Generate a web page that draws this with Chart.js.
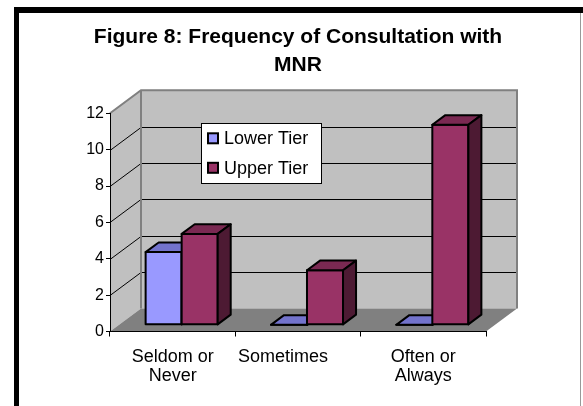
<!DOCTYPE html>
<html>
<head>
<meta charset="utf-8">
<title>Figure 8: Frequency of Consultation with MNR</title>
<script src="https://cdn.jsdelivr.net/npm/chart.js@4.4.1/dist/chart.umd.min.js"></script>
<style>
  html, body { margin: 0; padding: 0; background: #fff; }
</style>
</head>
<body>
<canvas id="freqChart" width="583" height="406"></canvas>
<script>
const categories = [["Seldom or", "Never"], "Sometimes", ["Often or", "Always"]];
const seriesNames = ["Lower Tier", "Upper Tier"];
const lowerTier = [4, 0, 0];
const upperTier = [5, 3, 11];
const yTicks = [0, 2, 4, 6, 8, 10, 12];

const FONT = "'Liberation Sans', Arial, sans-serif";

// fake 3d: offset of the back wall, and where the boxes sit in that depth
const DEPTH = { dx: 31, dy: 23 };
const BAR_FRONT = 0.29, BAR_BACK = 0.71;

const faces = [
  { front: "#9999ff", top: "#7373cc", side: "#4d4d80" },
  { front: "#993366", top: "#7a2952", side: "#4d1a33" }
];

function poly(ctx, pts, fill) {
  ctx.beginPath();
  ctx.moveTo(pts[0][0], pts[0][1]);
  pts.slice(1).forEach(p => ctx.lineTo(p[0], p[1]));
  ctx.closePath();
  ctx.fillStyle = fill;
  ctx.fill();
  ctx.stroke();
}

// frame, side wall, back wall, floor and the grid lines on them
const wallsPlugin = {
  id: 'walls',
  beforeDraw(chart) {
    const { ctx, chartArea: a, scales: { y } } = chart;
    const dx = DEPTH.dx, dy = DEPTH.dy;
    ctx.save();
    ctx.fillStyle = '#000';
    ctx.fillRect(14, 7, 5, chart.height - 7);
    ctx.fillRect(14, 7, chart.width - 14, 6);
    ctx.fillStyle = '#999';
    ctx.fillRect(580, 13, 1, chart.height - 13);

    ctx.fillStyle = '#c0c0c0';
    ctx.beginPath();
    ctx.moveTo(a.left, a.top);
    ctx.lineTo(a.left + dx, a.top - dy);
    ctx.lineTo(a.left + dx, a.bottom - dy);
    ctx.lineTo(a.left, a.bottom);
    ctx.closePath();
    ctx.fill();
    ctx.fillRect(a.left + dx, a.top - dy, a.right - a.left, a.bottom - a.top);

    ctx.fillStyle = '#808080';
    ctx.beginPath();
    ctx.moveTo(a.left, a.bottom);
    ctx.lineTo(a.left + dx, a.bottom - dy);
    ctx.lineTo(a.right + dx, a.bottom - dy);
    ctx.lineTo(a.right, a.bottom);
    ctx.closePath();
    ctx.fill();

    ctx.strokeStyle = '#000';
    ctx.lineWidth = 1;
    yTicks.forEach(v => {
      if (v === y.min || v === y.max) return;
      const py = Math.round(y.getPixelForValue(v)) + 0.5;
      ctx.beginPath();
      ctx.moveTo(a.left, py);
      ctx.lineTo(a.left + dx, py - dy);
      ctx.lineTo(a.right + dx, py - dy);
      ctx.stroke();
    });

    ctx.strokeStyle = '#808080';
    ctx.lineWidth = 2;
    ctx.beginPath();
    ctx.moveTo(a.left, a.top);
    ctx.lineTo(a.left + dx, a.top - dy);
    ctx.lineTo(a.right + dx, a.top - dy);
    ctx.lineTo(a.right + dx, a.bottom - dy);
    ctx.moveTo(a.left + dx, a.top - dy);
    ctx.lineTo(a.left + dx, a.bottom - dy);
    ctx.stroke();
    ctx.restore();
  }
};

// the bars are drawn as boxes from the bar elements chart.js lays out
const boxesPlugin = {
  id: 'boxes',
  beforeDatasetDraw() { return false; },
  afterDatasetsDraw(chart) {
    const { ctx } = chart;
    const fx = DEPTH.dx * BAR_FRONT, fy = DEPTH.dy * BAR_FRONT;
    const bx = DEPTH.dx * (BAR_BACK - BAR_FRONT), by = DEPTH.dy * (BAR_BACK - BAR_FRONT);
    const metas = chart.data.datasets.map((d, i) => chart.getDatasetMeta(i));
    ctx.save();
    ctx.lineWidth = 2;
    ctx.strokeStyle = '#000';
    ctx.lineJoin = 'round';
    categories.forEach((c, ci) => {
      metas.forEach((meta, di) => {
        const { x, y, base, width } = meta.data[ci].getProps(['x', 'y', 'base', 'width'], true);
        const l = x - width / 2 + fx, r = x + width / 2 + fx;
        const t = y - fy, b = base - fy;
        const col = faces[di];
        poly(ctx, [[l, t], [r, t], [r, b], [l, b]], col.front);
        poly(ctx, [[l, t], [l + bx, t - by], [r + bx, t - by], [r, t]], col.top);
        poly(ctx, [[r, t], [r + bx, t - by], [r + bx, b - by], [r, b]], col.side);
      });
    });
    ctx.restore();
  }
};

// legend box sitting on the back wall
const legendPlugin = {
  id: 'boxLegend',
  afterDraw(chart) {
    const { ctx, chartArea: a } = chart;
    const x0 = a.left + 91, y0 = a.top + 10, w = 120, h = 60;
    ctx.save();
    ctx.fillStyle = '#fff';
    ctx.fillRect(x0, y0, w, h);
    ctx.strokeStyle = '#000';
    ctx.lineWidth = 1;
    ctx.strokeRect(Math.round(x0) + 0.5, Math.round(y0) + 0.5, w, h);
    chart.data.datasets.forEach((ds, i) => {
      const cy = y0 + 16 + i * 29.5;
      ctx.fillStyle = ds.backgroundColor;
      ctx.lineWidth = 2;
      ctx.fillRect(x0 + 7, cy - 6, 10, 10);
      ctx.strokeRect(x0 + 7, cy - 6, 10, 10);
      ctx.fillStyle = '#000';
      ctx.font = '18px ' + FONT;
      ctx.textBaseline = 'middle';
      ctx.textAlign = 'left';
      ctx.fillText(ds.label, x0 + 23, cy);
    });
    ctx.restore();
  }
};

new Chart(document.getElementById('freqChart'), {
  type: 'bar',
  data: {
    labels: categories,
    datasets: [
      { label: seriesNames[0], data: lowerTier, backgroundColor: faces[0].front },
      { label: seriesNames[1], data: upperTier, backgroundColor: faces[1].front }
    ]
  },
  options: {
    responsive: false,
    animation: false,
    events: [],
    layout: { padding: { top: 0, left: 20, right: 7, bottom: 0 } },
    datasets: { bar: { categoryPercentage: 0.575, barPercentage: 1 } },
    plugins: {
      legend: { display: false },
      tooltip: { enabled: false },
      title: {
        display: true,
        text: ["Figure 8: Frequency of Consultation with", "MNR"],
        color: '#000',
        font: { family: FONT, size: 21, weight: 'bold', lineHeight: '28.4px' },
        padding: { top: 23, bottom: 33.5 }
      }
    },
    scales: {
      x: {
        afterFit: s => { s.height = 74.5; },
        grid: { offset: true, drawOnChartArea: false, color: '#000', tickLength: 5 },
        border: { color: '#000' },
        ticks: {
          color: '#000',
          padding: 11,
          maxRotation: 0,
          autoSkip: false,
          font: { family: FONT, size: 18, lineHeight: '19.3px' },
          callback: function(value, index) {
            const lab = this.getLabelForValue(value);
            // excel pushed the middle label a bit to the left
            return index === 1 ? lab + '\u00a0'.repeat(6) : lab;
          }
        }
      },
      y: {
        min: 0,
        max: 12,
        afterFit: s => { s.width = 90; },
        grid: { drawOnChartArea: false, color: '#000', tickLength: 4 },
        border: { color: '#000' },
        ticks: { stepSize: 2, color: '#000', padding: 2, font: { family: FONT, size: 16 } }
      },
      // empty right-hand space for the wall depth, keeps the title centred
      yr: {
        position: 'right',
        afterFit: s => { s.width = 90; },
        grid: { display: false },
        border: { display: false },
        ticks: { display: false }
      }
    }
  },
  plugins: [wallsPlugin, boxesPlugin, legendPlugin]
});
</script>
</body>
</html>
